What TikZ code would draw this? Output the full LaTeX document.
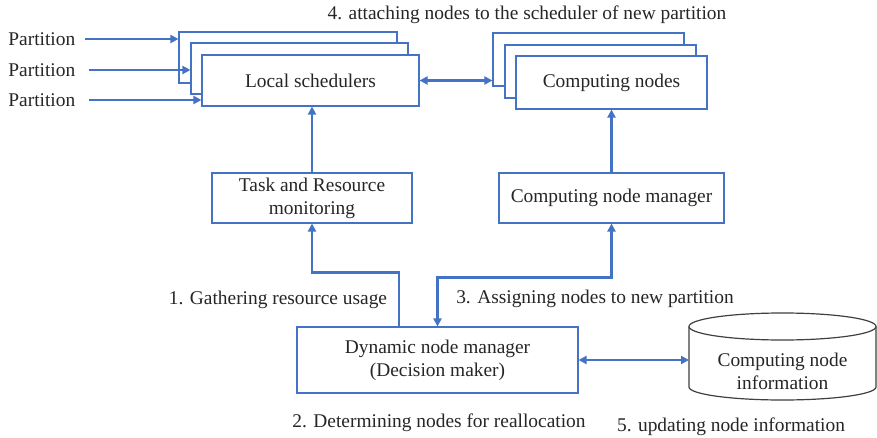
\documentclass[tikz,border=0pt]{standalone}
\usepackage{fontspec}
\setmainfont{Liberation Serif}
\usetikzlibrary{arrows.meta}
\definecolor{bl}{HTML}{4472C4}
\definecolor{tx}{HTML}{262626}
\definecolor{cyl}{HTML}{404040}
\begin{document}
\begin{tikzpicture}[x=0.5pt,y=-0.5pt,
  txt/.style={text=tx, font=\fontsize{9.7}{11.5}\selectfont},
  box/.style={txt, draw=bl, line width=0.55pt, fill=white, inner sep=0pt, align=center},
  lbl/.style={txt, inner sep=0pt},
  tip/.tip={Triangle[length=4pt,width=4pt]},
  arr/.style={draw=bl, line width=1.2pt, -tip},
  darr/.style={draw=bl, line width=1.2pt, tip-tip}]
\useasboundingbox[fill=white] (0,0) rectangle (877,438);

% Local schedulers stack
\node[box, minimum width=109pt, minimum height=25.5pt] (ls3) at (288,57.5) {};
\node[box, minimum width=108.5pt, minimum height=25.5pt] (ls2) at (299.5,68.5) {};
\node[box, minimum width=108.5pt, minimum height=25.5pt] (ls1) at (310.5,80.5) {Local schedulers};

% Computing nodes stack
\node[box, minimum width=95.5pt, minimum height=26.5pt] (cn3) at (588.5,59.5) {};
\node[box, minimum width=95.5pt, minimum height=26.5pt] (cn2) at (600.5,71.5) {};
\node[box, minimum width=95.5pt, minimum height=26.5pt] (cn1) at (611.5,82.5) {Computing nodes};

% middle boxes
\node[box, minimum width=100pt, minimum height=25pt] (task) at (312,198) {Task and Resource\\monitoring};
\node[box, minimum width=112.5pt, minimum height=25pt] (cnm) at (611.5,198) {Computing node manager};

% decision maker
\node[box, minimum width=140.5pt, minimum height=33pt] (dnm) at (437.5,360) {Dynamic node manager\\(Decision maker)};

% cylinder
\draw[cyl, line width=0.6pt, fill=white] (689,326.5) -- (689,387) arc[start angle=180, end angle=360, x radius=46.75pt, y radius=6.5pt] -- (876,326.5);
\draw[cyl, line width=0.6pt] (782.5,326.5) ellipse[x radius=46.75pt, y radius=6.75pt];
\node[lbl, align=center] (cyltext) at (782.5,371) {Computing node\\information};
\coordinate (cylw) at (689,361);

% partition labels
\node[lbl, anchor=west] (p1) at (8,39) {Partition};
\node[lbl, anchor=west] (p2) at (8,70) {Partition};
\node[lbl, anchor=west] (p3) at (8,100) {Partition};
\draw[arr] ([xshift=4.5pt]p1.east) -- (p1.east -| ls3.west);
\draw[arr] ([xshift=6.5pt]p2.east) -- (p2.east -| ls2.west);
\draw[arr] ([xshift=6.5pt]p3.east) -- (p3.east -| ls1.west);

% connectors
\draw[darr] (ls1.east) -- (ls1.east -| cn3.west);
\draw[arr] (task.north) -- (task.north |- ls1.south);
\draw[arr] (cnm.north) -- (cnm.north |- cn1.south);
\draw[arr] ([xshift=-19.25pt]dnm.north) -- ++(0,-54) -| (task.south);
\draw[darr] (cnm.south) -- ++(0,54) -| (dnm.north);
\draw[darr] (dnm.east) -- (dnm.east -| cylw);

% step labels
\node[lbl] (l4) at (527,15) {4. attaching nodes to the scheduler of new partition};
\node[lbl] (l1) at (278,300) {1. Gathering resource usage};
\node[lbl] (l3) at (595,299) {3. Assigning nodes to new partition};
\node[lbl] (l2) at (439,423) {2. Determining nodes for reallocation};
\node[lbl] (l5) at (731,427) {5. updating node information};
\end{tikzpicture}
\end{document}
